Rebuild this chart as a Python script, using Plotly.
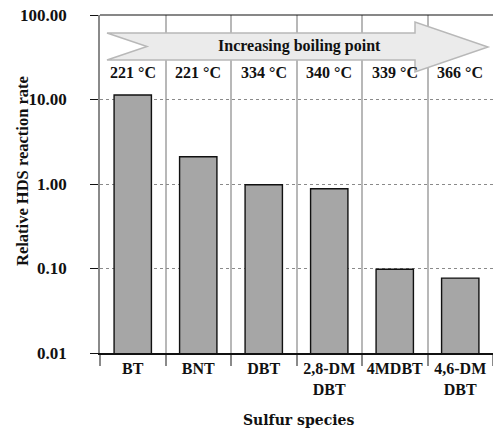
import plotly.graph_objects as go

species = ["BT", "BNT", "DBT", "2,8-DM<br>DBT", "4MDBT", "4,6-DM<br>DBT"]
rates = [11.3, 2.1, 0.98, 0.88, 0.098, 0.077]
boiling = ["221 °C", "221 °C", "334 °C", "340 °C", "339 °C", "366 °C"]
ytick_vals = [0.01, 0.1, 1, 10, 100]
ytick_text = ["0.01", "0.10", "1.00", "10.00", "100.00"]

FONT = "Liberation Serif"
W, H = 493, 430
L, R, T, B = 100, 0, 15, 430 - 353
PW, PH = W - L - R, H - T - B

def px(x):
    return (x - L) / PW

def py(y):
    return (H - B - y) / PH

fig = go.Figure()
fig.add_trace(go.Bar(
    x=species, y=rates, width=0.57,
    marker=dict(color="#a6a6a6", line=dict(color="#111111", width=1.4)),
    showlegend=False,
))

annotations = []
for s, b in zip(species, boiling):
    annotations.append(dict(x=s, y=py(72), xref="x", yref="paper", text="<b>%s</b>" % b,
                            showarrow=False, font=dict(family=FONT, size=16, color="#111111"),
                            yanchor="middle"))
annotations.append(dict(x=px(299), y=py(46), xref="paper", yref="paper",
                        text="<b>Increasing boiling point</b>", showarrow=False,
                        font=dict(family=FONT, size=16, color="#111111"), yanchor="middle"))
annotations.append(dict(x=px(22), y=py(171), xref="paper", yref="paper",
                        text="<b>Relative HDS reaction rate</b>", showarrow=False, textangle=-90,
                        font=dict(family=FONT, size=16.5, color="#111111"),
                        xanchor="center", yanchor="middle"))
annotations.append(dict(x=px(298), y=py(420), xref="paper", yref="paper",
                        text="<b>Sulfur species</b>", showarrow=False,
                        font=dict(family="DejaVu Serif", size=14, color="#111111"),
                        xanchor="center", yanchor="middle"))

arrow_pts = [(107, 33), (415, 33), (415, 22), (488, 47), (415, 72), (415, 60), (107, 60), (147, 46.5)]
path = "M " + " L ".join("%f,%f" % (px(a), py(b)) for a, b in arrow_pts) + " Z"

shapes = [
    dict(type="path", path=path, xref="paper", yref="paper",
         fillcolor="#ebebeb", line=dict(color="#b8b8b8", width=1.5), layer="above"),
    dict(type="line", xref="paper", yref="paper", x0=0, x1=1, y0=1, y1=1,
         line=dict(color="#111111", width=1.2)),
]

fig.update_layout(
    width=W, height=H,
    margin=dict(l=L, r=R, t=T, b=B, autoexpand=False),
    paper_bgcolor="white", plot_bgcolor="white",
    font=dict(family=FONT, color="#111111"),
    annotations=annotations, shapes=shapes,
)
fig.update_xaxes(
    type="category", tickson="boundaries", ticks="outside", ticklen=11,
    tickcolor="#8a8a8a", tickwidth=1.5, tickangle=0, automargin=False,
    showgrid=True, gridcolor="#b8b8b8", gridwidth=1.5,
    showline=True, linecolor="#111111", linewidth=1.5,
    tickfont=dict(family=FONT, size=16, color="#111111"),
    tickprefix="<b>", ticksuffix="</b>",
)
fig.update_yaxes(
    type="log", range=[-2, 2], tickvals=ytick_vals, ticktext=["<b>%s</b>" % t for t in ytick_text],
    ticks="outside", ticklen=8, tickcolor="#111111", automargin=False,
    showgrid=True, gridcolor="#8a8a8a", griddash="dot", gridwidth=1,
    showline=True, linecolor="#8a8a8a", linewidth=1.5,
    tickfont=dict(family=FONT, size=17, color="#111111"),
    ticklabelstandoff=20, ticklabeloverflow="allow",
    zeroline=False,
)
fig.write_html("out.html",
               config={"displayModeBar": False},
               post_script="document.body.style.margin='0';document.body.style.overflow='hidden';")
